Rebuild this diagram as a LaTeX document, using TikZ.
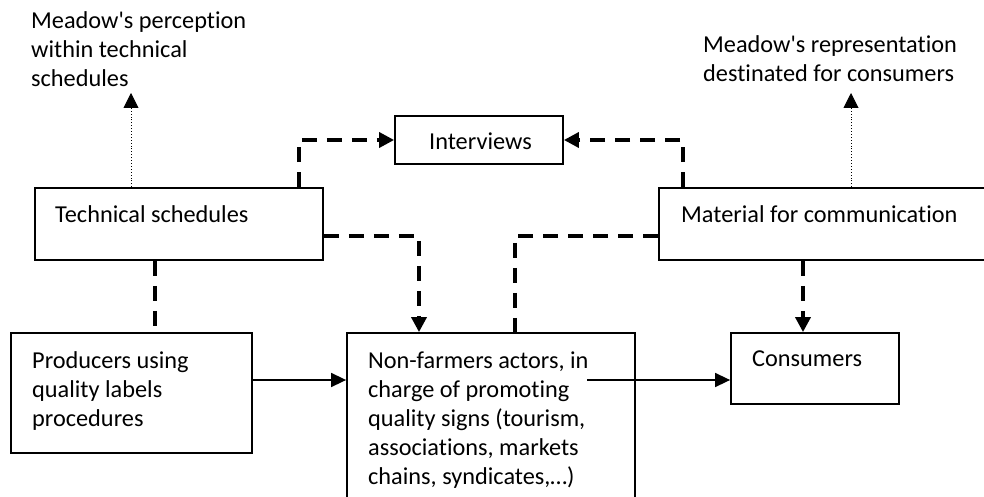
\documentclass[tikz,border=0pt]{standalone}
\usepackage{fontspec}
\setmainfont{Carlito}[Ligatures={NoCommon}]
\usetikzlibrary{arrows.meta}
\tikzset{
  box/.style={draw, line width=1.8pt, minimum width=#1, inner sep=0pt},
  txt/.style={anchor=base west, inner sep=0pt, font=\fontsize{24.3}{29}\selectfont},
  dsh/.style={line width=3.5pt, dash pattern=on 15pt off 10pt},
  tipd/.style={-{Triangle[length=15pt,width=15pt]}},
  solidarr/.style={line width=1.6pt, -{Triangle[length=15pt,width=14pt]}},
  dotarr/.style={line width=0.9pt, dotted, -{Triangle[length=15pt,width=15pt]}}
}
\begin{document}
\begin{tikzpicture}[x=1pt,y=-1pt]
\useasboundingbox (0,0) rectangle (984,497);
\clip (0,0) rectangle (984,497);
% boxes
\node[box=288pt, minimum height=72pt] (tech) at (179,224) {};
\node[box=168pt, minimum height=48pt] (int) at (479,140) {};
\node[box=341pt, minimum height=72pt] (mat) at (829.5,224) {};
\node[box=241pt, minimum height=120pt] (prod) at (131.5,393) {};
\node[box=288pt, minimum height=187pt] (nonf) at (491,426.5) {};
\node[box=168pt, minimum height=71pt] (cons) at (815,368.5) {};
% texts
\node[txt] (tperc) at (31,29) {\begin{tabular}[t]{@{}l@{}}Meadow\textquotesingle s perception\\within technical\\schedules\end{tabular}};
\node[txt] (trep) at (703,53) {\begin{tabular}[t]{@{}l@{}}Meadow\textquotesingle s representation\\destinated for consumers\end{tabular}};
\node[txt] (tint) at (429,150) {Interviews};
\node[txt] (ttech) at (55,222) {Technical schedules};
\node[txt] (tmat) at (681,222) {Material for communication};
\node[txt] (tprod) at (32,368) {\begin{tabular}[t]{@{}l@{}}Producers using\\quality labels\\procedures\end{tabular}};
\node[txt] (tnonf) at (368,368) {\begin{tabular}[t]{@{}l@{}}Non-farmers actors, in\\charge of promoting\\quality signs (tourism,\\associations, markets\\chains, syndicates,…)\end{tabular}};
\node[txt] (tcons) at (752,366) {Consumers};
% helper coordinates
\coordinate (r) at (0,380);
\coordinate (u) at (0,236);
\coordinate (pup) at (131,93);
\coordinate (rup) at (851,93);
\coordinate (nfstart) at (587,380);
% solid arrows
\draw[solidarr] (prod.east |- r) -- (nonf.west |- r);
\draw[solidarr] (nfstart) -- (cons.west |- r);
% dashed connectors
\draw[dsh] (tech.south -| 155,0) -- (prod.north -| 155,0);
\draw[dsh,tipd] (tech.east |- u) -| (nonf.north -| 419,0);
\draw[dsh,tipd] (tech.north -| 299,0) |- (int.west);
\draw[dsh,tipd] (mat.north -| 683,0) |- (int.east);
\draw[dsh] (mat.west |- u) -| (nonf.north -| 515,0);
\draw[dsh,tipd] (mat.south -| 803,0) -- (cons.north -| 803,0);
% dotted arrows
\draw[dotarr] (tech.north -| pup) -- (pup);
\draw[dotarr] (mat.north -| rup) -- (rup);
\end{tikzpicture}
\end{document}
